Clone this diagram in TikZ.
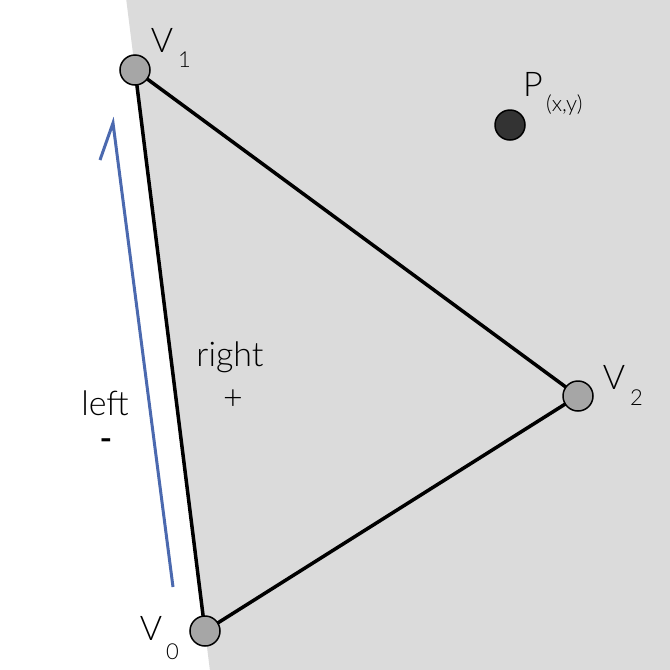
\documentclass[tikz,border=0pt]{standalone}
\usepackage{fontspec}
\setmainfont{Lato Light}
\begin{document}
\begin{tikzpicture}[x=1pt,y=-1pt,
  vert/.style={circle,draw=black,line width=1.5pt,fill=gray!70,minimum size=30pt,inner sep=0},
  lbl/.style={font=\fontsize{34}{36}\selectfont,inner sep=0},
  sub/.style={font=\fontsize{22}{24}\selectfont,inner sep=0}]
\useasboundingbox (0,0) rectangle (670,670);
\fill[white] (0,0) rectangle (670,670);
\fill[gray!28] (126.3,0) -- (670,0) -- (670,670) -- (209.9,670) -- cycle;
\coordinate (v0) at (205,631);
\coordinate (v1) at (135,70);
\coordinate (v2) at (578,396);
\draw[line width=3.5pt] (v0) -- (v1) -- (v2) -- cycle;
\node[vert] (V0) at (v0) {};
\node[vert] (V1) at (v1) {};
\node[vert] (V2) at (v2) {};
\node[vert,fill=black!80] (P) at (510,125) {};
\node[lbl] (t1) at (162,40) {V};
\node[sub,anchor=west] at (178,60) {1};
\node[lbl] (t2) at (614,377) {V};
\node[sub,anchor=west] at (630,398) {2};
\node[lbl] (t0) at (151,628) {V};
\node[sub,anchor=west] at (166,652) {0};
\node[lbl] (tp) at (533,84) {P};
\node[sub,anchor=west] at (546,105) {(x,y)};
\node[lbl] at (230,357) {right};
\node[lbl] at (233,400) {+};
\node[lbl] at (105,403) {left};
\node[lbl,font=\fontsize{34}{36}\selectfont\bfseries] at (106,445) {-};
\coordinate (a0) at (173,587);
\coordinate (a1) at (113,123);
\coordinate (a2) at (100,160);
\draw[color={rgb,255:red,75;green,105;blue,175},line width=3pt,line join=miter] (a0) -- (a1) -- (a2);
\end{tikzpicture}
\end{document}
